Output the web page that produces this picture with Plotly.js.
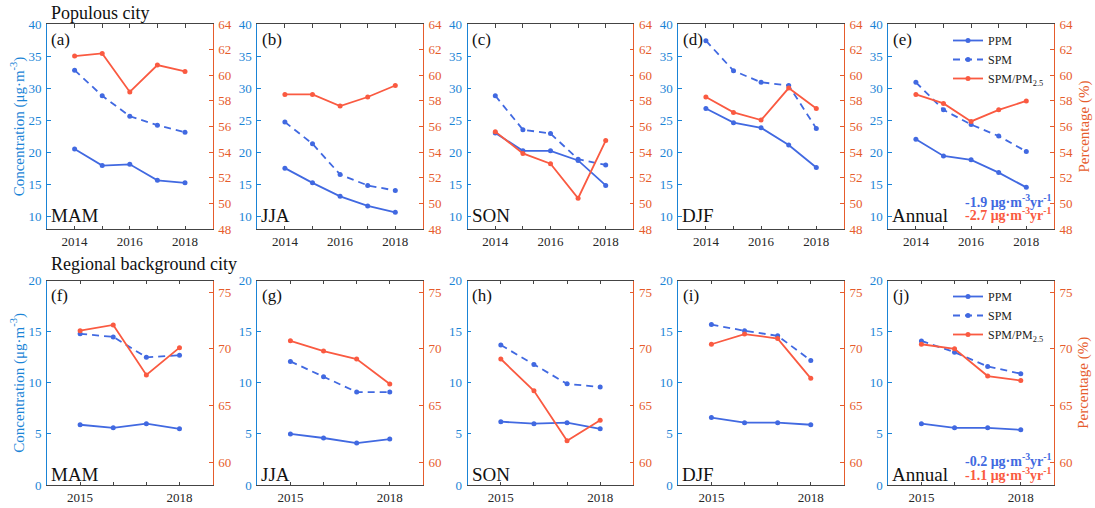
<!DOCTYPE html>
<html><head><meta charset="utf-8">
<script src="https://cdn.plot.ly/plotly-3.0.1.min.js"></script>
<style>body{margin:0;background:#fff;} #chart{width:1095px;height:508px;}</style>
</head><body><div id="chart"></div>
<script>
const yearsTop = [2014, 2015, 2016, 2017, 2018];
const yearsBottom = [2015, 2016, 2017, 2018];
const xTickTextTop = ['2014', '', '2016', '', '2018'];
const xTickTextBottom = ['2015', '', '', '2018'];
const seasons = ['MAM', 'JJA', 'SON', 'DJF', 'Annual'];
const panelLabelsTop = ['(a)', '(b)', '(c)', '(d)', '(e)'];
const panelLabelsBottom = ['(f)', '(g)', '(h)', '(i)', '(j)'];
const rowTitles = ['Populous city', 'Regional background city'];
const seriesNames = ['PPM', 'SPM', 'SPM/PM<sub>2.5</sub>'];

// Populous city (concentration, μg·m-3 ; ratio, %)
const popPPM = [
  [20.5, 17.9, 18.1, 15.6, 15.2],
  [17.5, 15.2, 13.1, 11.6, 10.6],
  [23.0, 20.2, 20.2, 18.7, 14.8],
  [26.8, 24.6, 23.8, 21.1, 17.6],
  [22.0, 19.4, 18.8, 16.8, 14.5]];
const popSPM = [
  [32.8, 28.8, 25.6, 24.2, 23.1],
  [24.7, 21.3, 16.5, 14.8, 14.0],
  [28.8, 23.5, 22.9, 18.9, 18.0],
  [37.4, 32.7, 30.9, 30.4, 23.7],
  [30.9, 26.6, 24.3, 22.5, 20.1]];
const popRatio = [
  [61.5, 61.7, 58.7, 60.8, 60.3],
  [58.5, 58.5, 57.6, 58.3, 59.2],
  [55.6, 53.9, 53.1, 50.4, 54.9],
  [58.3, 57.1, 56.5, 59.0, 57.4],
  [58.5, 57.8, 56.4, 57.3, 58.0]];

// Regional background city
const regPPM = [
  [5.9, 5.6, 6.0, 5.5],
  [5.0, 4.6, 4.1, 4.5],
  [6.2, 6.0, 6.1, 5.5],
  [6.6, 6.1, 6.1, 5.9],
  [6.0, 5.6, 5.6, 5.4]];
const regSPM = [
  [14.8, 14.5, 12.5, 12.7],
  [12.1, 10.6, 9.1, 9.1],
  [13.7, 11.8, 9.9, 9.6],
  [15.7, 15.1, 14.6, 12.2],
  [14.1, 13.0, 11.6, 10.9]];
const regRatio = [
  [71.6, 72.1, 67.7, 70.1],
  [70.7, 69.8, 69.1, 66.9],
  [69.1, 66.3, 61.9, 63.7],
  [70.4, 71.3, 70.9, 67.4],
  [70.4, 70.0, 67.6, 67.2]];

const trendTop = ['-1.9 μg·m<sup>-3</sup>yr<sup>-1</sup>', '-2.7 μg·m<sup>-3</sup>yr<sup>-1</sup>'];
const trendBottom = ['-0.2 μg·m<sup>-3</sup>yr<sup>-1</sup>', '-1.1 μg·m<sup>-3</sup>yr<sup>-1</sup>'];

// styling
const W = 1095, H = 508;
const FONT = 'Liberation Serif';
const BLUE_AX = '#1a84d6';
const RED_AX = '#e65c2c';
const BLUE = '#4169e1';
const RED = '#fa5a41';
const AXGRAY = '#444444';

const colLeft = [47, 257.3, 467.7, 678.3, 888.3];
const plotW = 165.6;
const rowTop = [24, 280.7];
const rowH = [205, 204.3];

const data = [];
const layout = {
  width: W, height: H,
  margin: {l: 0, r: 0, t: 0, b: 0},
  paper_bgcolor: '#fff', plot_bgcolor: '#fff',
  font: {family: FONT, size: 13, color: '#262626'},
  showlegend: true,
  annotations: [],
  legend: {
    x: 948 / W, y: 1 - 26 / H, xanchor: 'left', yanchor: 'top',
    bgcolor: 'rgba(0,0,0,0)', font: {family: FONT, size: 12, color: '#222'},
    itemwidth: 30, tracegroupgap: 0
  },
  legend2: {
    x: 948 / W, y: 1 - 282 / H, xanchor: 'left', yanchor: 'top',
    bgcolor: 'rgba(0,0,0,0)', font: {family: FONT, size: 12, color: '#222'},
    itemwidth: 30, tracegroupgap: 0
  }
};

for (let r = 0; r < 2; r++) {
  const years = r === 0 ? yearsTop : yearsBottom;
  const ppm = r === 0 ? popPPM : regPPM;
  const spm = r === 0 ? popSPM : regSPM;
  const ratio = r === 0 ? popRatio : regRatio;
  const labels = r === 0 ? panelLabelsTop : panelLabelsBottom;
  const ticktext = r === 0 ? xTickTextTop : xTickTextBottom;
  for (let c = 0; c < 5; c++) {
    const p = r * 5 + c;
    const xa = 'x' + (p + 1);
    const yl = 'y' + (2 * p + 1);
    const yr = 'y' + (2 * p + 2);
    const xName = 'xaxis' + (p + 1);
    const ylName = 'yaxis' + (2 * p + 1);
    const yrName = 'yaxis' + (2 * p + 2);
    const dom = [colLeft[c] / W, (colLeft[c] + plotW) / W];
    const ydom = [1 - (rowTop[r] + rowH[r]) / H, 1 - rowTop[r] / H];

    layout[xName] = {
      domain: dom, anchor: yl,
      range: r === 0 ? [2013, 2019] : [2014, 2019],
      tickmode: 'array', tickvals: years, ticktext: ticktext,
      ticks: 'inside', ticklen: 3.5, tickwidth: 1, tickcolor: AXGRAY,
      showline: true, linecolor: AXGRAY, linewidth: 1, mirror: 'ticks',
      showgrid: false, zeroline: false, fixedrange: true,
      tickfont: {family: FONT, size: 13, color: '#262626'},
      ticklabelstandoff: 0
    };
    layout[ylName] = {
      domain: ydom, anchor: xa,
      range: r === 0 ? [8, 40] : [0, 20],
      tickmode: 'linear', tick0: 0, dtick: 5,
      ticks: 'inside', ticklen: 3.5, tickwidth: 1, tickcolor: BLUE_AX,
      showline: true, linecolor: BLUE_AX, linewidth: 1, mirror: false,
      showgrid: false, zeroline: false, fixedrange: true,
      tickfont: {family: FONT, size: 13, color: BLUE_AX},
      ticklabelstandoff: 2
    };
    layout[yrName] = {
      overlaying: yl, anchor: xa, side: 'right',
      range: r === 0 ? [48, 64] : [58, 76],
      tickmode: 'linear', tick0: 0, dtick: r === 0 ? 2 : 5,
      ticks: 'inside', ticklen: 3.5, tickwidth: 1, tickcolor: RED_AX,
      showline: true, linecolor: RED_AX, linewidth: 1,
      showgrid: false, zeroline: false, fixedrange: true,
      tickfont: {family: FONT, size: 13, color: RED_AX},
      ticklabelstandoff: 2
    };
    if (c === 0) {
      layout[ylName].title = {text: 'Concentration (μg·m<sup>-3</sup>)', font: {family: FONT, size: 15, color: BLUE_AX}, standoff: 0};
    }
    if (c === 4) {
      layout[yrName].title = {text: 'Percentage (%)', font: {family: FONT, size: 15, color: RED_AX}, standoff: 6};
    }

    const legendId = r === 0 ? 'legend' : 'legend2';
    const showL = c === 4;
    data.push({
      x: years, y: ppm[c], xaxis: xa, yaxis: yl, type: 'scatter', mode: 'lines+markers',
      name: seriesNames[0], line: {color: BLUE, width: 1.8}, marker: {color: BLUE, size: 5},
      showlegend: showL, legend: legendId
    });
    data.push({
      x: years, y: spm[c], xaxis: xa, yaxis: yl, type: 'scatter', mode: 'lines+markers',
      name: seriesNames[1], line: {color: BLUE, width: 1.8, dash: '7px,5px'}, marker: {color: BLUE, size: 5},
      showlegend: showL, legend: legendId
    });
    data.push({
      x: years, y: ratio[c], xaxis: xa, yaxis: yr, type: 'scatter', mode: 'lines+markers',
      name: seriesNames[2], line: {color: RED, width: 1.8}, marker: {color: RED, size: 5},
      showlegend: showL, legend: legendId
    });

    // panel label and season label
    layout.annotations.push({
      xref: xa + ' domain', yref: yl + ' domain', x: 0.015, y: r === 0 ? 0.925 : 0.93,
      xanchor: 'left', yanchor: 'middle', showarrow: false, text: labels[c],
      font: {family: FONT, size: 17, color: '#111'}
    });
    layout.annotations.push({
      xref: xa + ' domain', yref: yl + ' domain', x: 0.012, y: r === 0 ? 0.066 : 0.052,
      xanchor: 'left', yanchor: 'middle', showarrow: false, text: seasons[c],
      font: {family: FONT, size: 19, color: '#111'}
    });
    if (c === 4) {
      const tr = r === 0 ? trendTop : trendBottom;
      const ys = r === 0 ? [0.135, 0.072] : [0.124, 0.056];
      layout.annotations.push({
        xref: xa + ' domain', yref: yl + ' domain', x: 1.0, y: ys[0],
        xanchor: 'right', yanchor: 'middle', showarrow: false, text: '<b>' + tr[0] + '</b>',
        font: {family: FONT, size: 14, color: BLUE}
      });
      layout.annotations.push({
        xref: xa + ' domain', yref: yl + ' domain', x: 1.0, y: ys[1],
        xanchor: 'right', yanchor: 'middle', showarrow: false, text: '<b>' + tr[1] + '</b>',
        font: {family: FONT, size: 14, color: RED}
      });
    }
  }
  // row title
  layout.annotations.push({
    xref: 'paper', yref: 'paper', x: 49 / W, y: 1 - (r === 0 ? 13 : 264) / H,
    xanchor: 'left', yanchor: 'middle', showarrow: false, text: rowTitles[r],
    font: {family: FONT, size: 18, color: '#111'}
  });
}

Plotly.newPlot('chart', data, layout, {staticPlot: true, displayModeBar: false});
</script>
</body></html>
